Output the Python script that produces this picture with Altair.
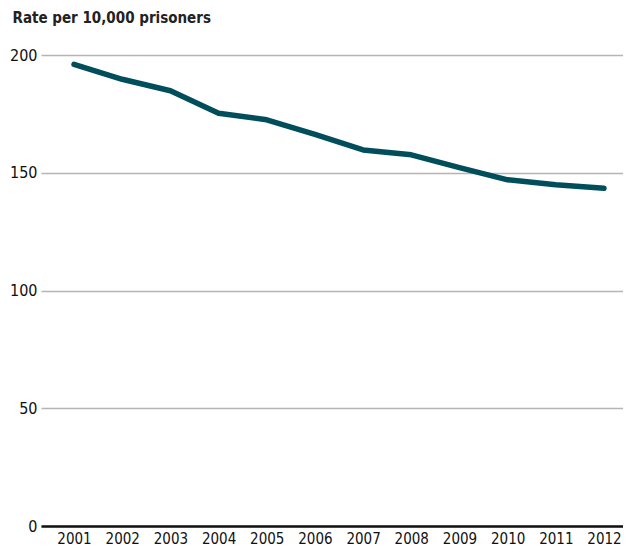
import altair as alt
import pandas as pd

years = ["2001", "2002", "2003", "2004", "2005", "2006", "2007", "2008", "2009", "2010", "2011", "2012"]
rates = [196.0, 189.7, 184.8, 175.3, 172.5, 166.3, 159.7, 157.6, 152.2, 147.0, 144.9, 143.4]

df = pd.DataFrame({"year": years, "rate": rates})
FONT = "DejaVu Sans Condensed"

chart = alt.Chart(df).mark_line(
    color="#004d5b", strokeWidth=5.5, strokeCap="round", strokeJoin="round"
).encode(
    x=alt.X("year:O", sort=years, scale=alt.Scale(padding=0.54, align=0.635),
            axis=alt.Axis(title=None, labelAngle=0, ticks=False, domainColor="#111111",
                          domainWidth=2.5, labelPadding=5, labelFontSize=15,
                          labelColor="#111111", labelFont=FONT)),
    y=alt.Y("rate:Q", scale=alt.Scale(domain=[0, 200], nice=False),
            axis=alt.Axis(values=[0, 50, 100, 150, 200], ticks=False, domain=False,
                          grid=True, gridColor="#b5b5b5", gridWidth=1.3,
                          labelPadding=4, labelFontSize=16, labelColor="#111111",
                          labelFont=FONT, title="Rate per 10,000 prisoners",
                          titleAngle=0, titleAlign="left", titleBaseline="top",
                          titleX=-29, titleY=-45, titleFont=FONT, titleFontSize=15,
                          titleFontWeight="bold", titleColor="#222222")),
).properties(
    width=582, height=471,
    padding={"left": 33, "top": 47, "right": 0, "bottom": 22},
    autosize=alt.AutoSizeParams(type="none"),
).configure_view(stroke=None)

chart.save("out.html", embed_options={"renderer": "svg", "actions": False})
